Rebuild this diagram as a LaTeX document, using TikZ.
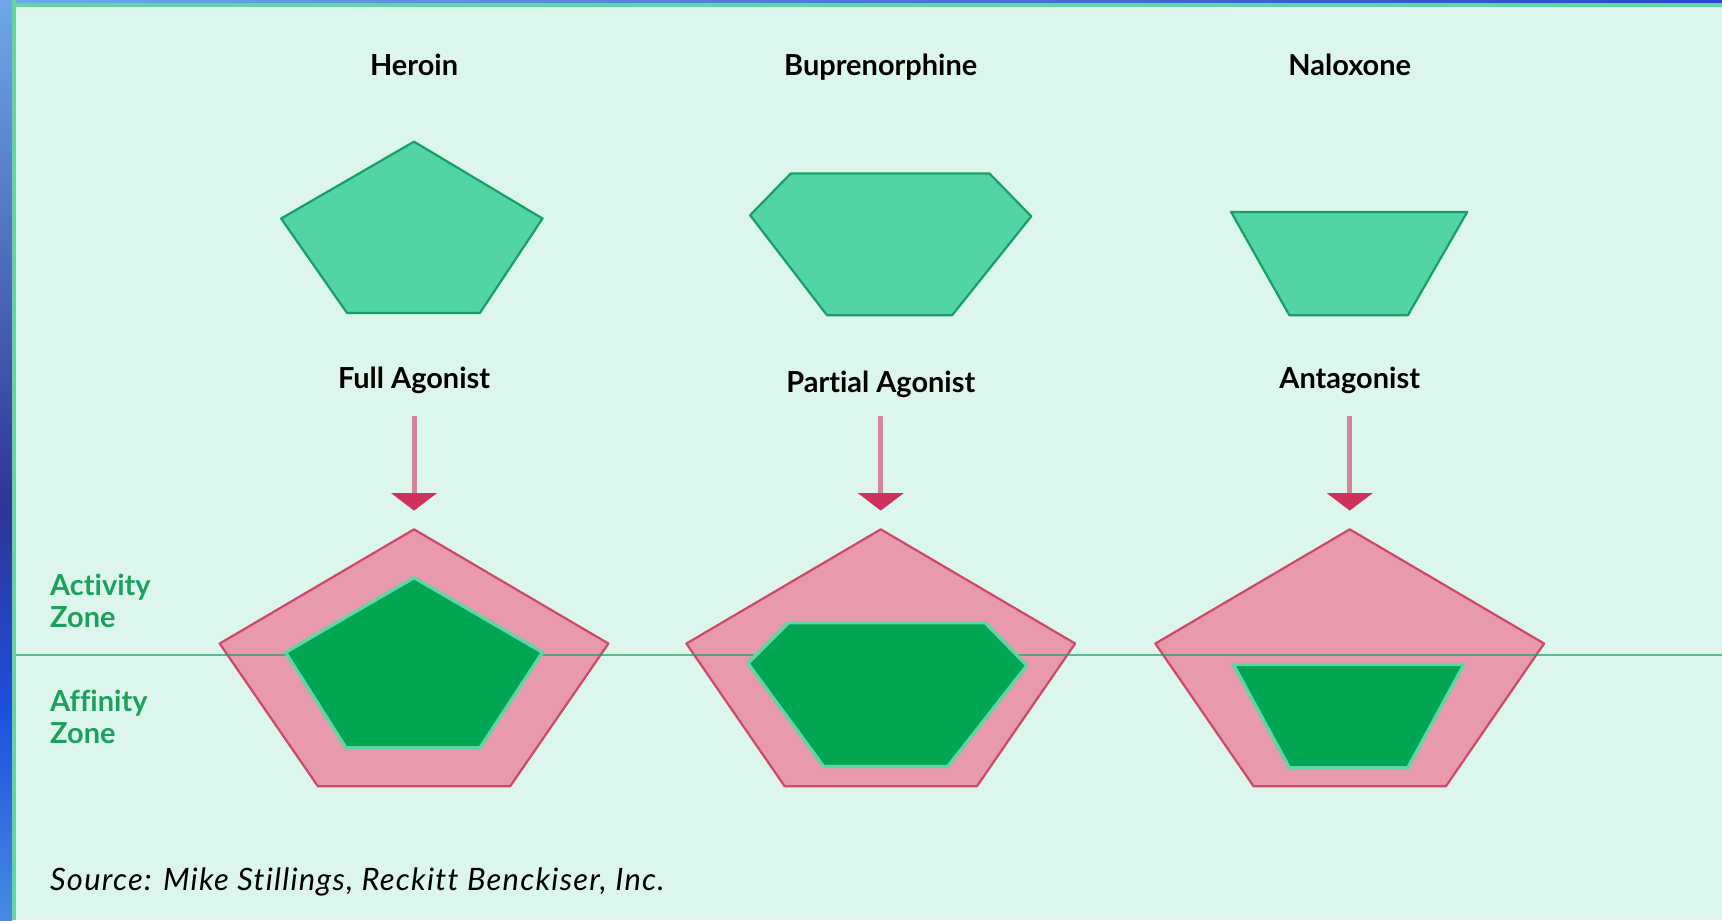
\documentclass[tikz,border=0pt]{standalone}
\usepackage{fontspec}
\setmainfont{Lato}[Ligatures=NoCommon]
\usetikzlibrary{arrows.meta}
\definecolor{bg}{RGB}{220,246,237}
\definecolor{drugfill}{RGB}{82,212,165}
\definecolor{drugline}{RGB}{22,160,100}
\definecolor{boundfill}{RGB}{0,166,81}
\definecolor{boundline}{RGB}{95,215,165}
\definecolor{rcptfill}{RGB}{232,153,172}
\definecolor{rcptline}{RGB}{206,72,104}
\definecolor{shaftpink}{RGB}{212,132,152}
\definecolor{headred}{RGB}{206,50,92}
\definecolor{zonegreen}{RGB}{28,160,92}
\definecolor{zoneline}{RGB}{40,160,95}
\definecolor{edgegreen}{RGB}{100,212,165}
\definecolor{stripa}{RGB}{110,168,232}
\definecolor{stripb}{RGB}{48,52,150}
\definecolor{stripc}{RGB}{30,80,222}
\definecolor{stripd}{RGB}{70,140,225}
\definecolor{stripe}{RGB}{40,72,200}
\begin{document}
\begin{tikzpicture}[
  lbl/.style={font=\fontsize{7.5}{8.2}\selectfont\bfseries,anchor=base,inner sep=0pt},
  zone/.style={font=\fontsize{7.5}{8.3}\selectfont\bfseries,text=zonegreen,align=left,anchor=west,inner sep=0pt},
  drug/.style={fill=drugfill,draw=drugline,line width=0.2mm,line join=round},
  bound/.style={fill=boundfill,draw=boundline,line width=0.3mm,line join=round},
  rcpt/.style={fill=rcptfill,draw=rcptline,line width=0.2mm,line join=round},
  arr/.style={draw=shaftpink,line width=0.45mm,-{Triangle[width=4.1mm,length=1.6mm,color=headred]}}]
\useasboundingbox (0,0) rectangle (15.68,-8.38);
% y positions: names, caption, receptor top, zone border
\def\yn{-0.69}\def\yc{-3.54}\def\yr{-4.82}\def\yz{-5.965}
%------------- frame
\fill[bg] (0,0) rectangle (15.68,-8.38);
\shade[top color=stripa,bottom color=stripb] (0,0) rectangle (0.11,-4.6);
\shade[top color=stripb,bottom color=stripd,middle color=stripc] (0,-4.6) rectangle (0.11,-8.38);
\shade[left color=stripa,right color=stripe] (0.11,0) rectangle (15.68,-0.03);
\fill[edgegreen] (0.11,0) rectangle (0.15,-8.38);
\fill[edgegreen] (0.11,-0.03) rectangle (15.68,-0.06);
%------------- receptors
\begin{scope}[xshift=3.77cm]
\draw[rcpt] (0,\yr) -- (1.77,-5.86) -- (0.875,-7.16) -- (-0.875,-7.16) -- (-1.77,-5.86) -- cycle;
\end{scope}
\begin{scope}[xshift=8.02cm]
\draw[rcpt] (0,\yr) -- (1.77,-5.86) -- (0.875,-7.16) -- (-0.875,-7.16) -- (-1.77,-5.86) -- cycle;
\end{scope}
\begin{scope}[xshift=12.29cm]
\draw[rcpt] (0,\yr) -- (1.77,-5.86) -- (0.875,-7.16) -- (-0.875,-7.16) -- (-1.77,-5.86) -- cycle;
\end{scope}
%------------- zone border
\draw[zoneline,opacity=0.7,line width=0.25mm] (0.15,\yz) -- (15.68,\yz);
\node[zone] (act) at (0.45,-5.47) {Activity\\Zone};
\node[zone] (aff) at (0.45,-6.53) {Affinity\\Zone};
%------------- Heroin: full agonist
\begin{scope}[xshift=3.77cm]
\node[lbl] (heroin) at (0,\yn) {Heroin};
\draw[drug] (0,-1.29) -- (1.17,-1.99) -- (0.60,-2.85) -- (-0.61,-2.85) -- (-1.21,-1.99) -- cycle;
\node[lbl] (full) at (0,\yc) {Full Agonist};
\coordinate (t1) at (0,-4.65);
\draw[arr] ([yshift=-2.5mm]full.base) -- (t1);
\draw[bound] (0,-5.26) -- (1.17,-5.94) -- (0.60,-6.81) -- (-0.62,-6.81) -- (-1.17,-5.94) -- cycle;
\end{scope}
%------------- Buprenorphine: partial agonist
\begin{scope}[xshift=8.02cm]
\node[lbl] (bup) at (0,\yn) {Buprenorphine};
\draw[drug] (-0.82,-1.58) -- (0.99,-1.58) -- (1.37,-1.97) -- (0.65,-2.87) -- (-0.49,-2.87) -- (-1.19,-1.96) -- cycle;
\node[lbl] (partial) at (0,-3.57) {Partial Agonist};
\coordinate (t2) at (0,-4.65);
\draw[arr] ([yshift=-2.2mm]partial.base) -- (t2);
\draw[bound] (-0.84,-5.67) -- (0.95,-5.67) -- (1.33,-6.06) -- (0.61,-6.98) -- (-0.52,-6.98) -- (-1.21,-6.04) -- cycle;
\end{scope}
%------------- Naloxone: antagonist
\begin{scope}[xshift=12.29cm]
\node[lbl] (nal) at (0,\yn) {Naloxone};
\draw[drug] (-1.08,-1.93) -- (1.07,-1.93) -- (0.53,-2.87) -- (-0.55,-2.87) -- cycle;
\node[lbl] (antag) at (0,\yc) {Antagonist};
\coordinate (t3) at (0,-4.65);
\draw[arr] ([yshift=-2.5mm]antag.base) -- (t3);
\draw[bound] (-1.06,-6.05) -- (1.04,-6.05) -- (0.53,-6.99) -- (-0.55,-6.99) -- cycle;
\end{scope}
%------------- source
\node[font=\fontsize{8.0}{9}\selectfont\itshape\addfontfeature{LetterSpace=4},anchor=base west,inner sep=0pt] (src) at (0.45,-8.105) {Source: Mike Stillings, Reckitt Benckiser, Inc.};
\end{tikzpicture}
\end{document}
